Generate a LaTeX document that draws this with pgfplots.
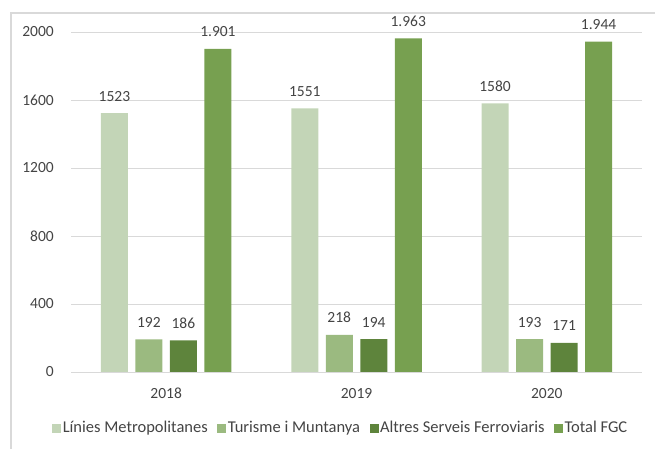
\documentclass[border=0pt]{standalone}
\usepackage{pgfplots}
\pgfplotsset{compat=1.18}
\usepackage{fontspec}
\setmainfont{Carlito}
\definecolor{cA}{HTML}{C3D5B7}
\definecolor{cB}{HTML}{9BBA80}
\definecolor{cC}{HTML}{5E843C}
\definecolor{cD}{HTML}{77A050}
\definecolor{txt}{HTML}{444444}
\definecolor{grd}{HTML}{D9D9D9}
\begin{document}
\fontsize{15}{18}\selectfont
\begin{tikzpicture}
\useasboundingbox (0,0) rectangle (655pt,449pt);
\draw[grd, line width=1.2pt] (11pt,0) -- (11pt,436pt) -- (655pt,436pt);
\begin{axis}[
  at={(71pt,77pt)}, anchor=south west,
  scale only axis, width=571pt, height=340pt,
  xmin=-0.5, xmax=2.5, ymin=0, ymax=2000,
  xtick={0,1,2}, xticklabels={2018,2019,2020},
  ytick={0,400,...,2000},
  ymajorgrids, grid style={grd, line width=0.9pt},
  axis line style={draw=none},
  major tick length=0pt,
  /pgf/number format/assume math mode=true,
  /pgf/number format/1000 sep={},
  tick label style={text=txt, font=\fontsize{15.5}{18}\selectfont},
  yticklabel style={anchor=east, inner sep=0pt, xshift=-17pt},
  xticklabel style={anchor=base, inner sep=0pt, yshift=-27pt},
  ybar, bar width=27pt,
  point meta=explicit symbolic,
  nodes near coords,
  every node near coord/.append style={anchor=base, inner sep=0pt, yshift=12pt, text=txt, font=\fontsize{15.5}{18}\selectfont},
  legend columns=4,
  legend style={at={(0.472,-0.165)}, anchor=center, draw=none, fill=none,
    font=\fontsize{16.5}{19}\selectfont, text=txt,
    /tikz/every even column/.append style={column sep=8pt},
    nodes={inner sep=1.5pt}},
  legend image code/.code={\fill[#1] (0pt,-4.5pt) rectangle (9pt,4.5pt);},
]
\addplot[fill=cA, draw=none, bar shift=-51.75pt] coordinates {(0,1523) [1523] (1,1551) [1551] (2,1580) [1580]};
\addplot[fill=cB, draw=none, bar shift=-17.25pt] coordinates {(0,192) [192] (1,218) [218] (2,193) [193]};
\addplot[fill=cC, draw=none, bar shift=17.25pt] coordinates {(0,186) [186] (1,194) [194] (2,171) [171]};
\addplot[fill=cD, draw=none, bar shift=51.75pt] coordinates {(0,1901) [1.901] (1,1963) [1.963] (2,1944) [1.944]};
\legend{Línies Metropolitanes, Turisme i Muntanya, Altres Serveis Ferroviaris, Total FGC}
\end{axis}
\end{tikzpicture}
\end{document}
